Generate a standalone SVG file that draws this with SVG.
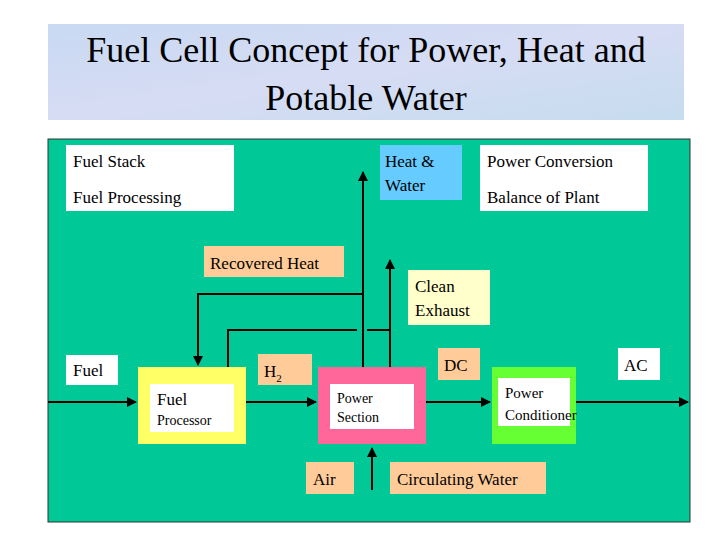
<svg xmlns="http://www.w3.org/2000/svg" width="720" height="540" viewBox="0 0 720 540">
<defs>
<style>
text{font-family:"Liberation Serif","Times New Roman",serif;fill:#000}
.ln{stroke:#000;stroke-width:2;fill:none}
.pe{fill:#ffcc99}
.wh{fill:#fff}
</style>
<marker id="ah" viewBox="0 0 10 10" refX="9" refY="5" markerWidth="5" markerHeight="5" orient="auto"><path d="M0,0L10,5L0,10z" fill="#000"/></marker>
<linearGradient id="tg" x1="0" y1="0" x2="1" y2="1"><stop offset="0" stop-color="#c9d9f2"/><stop offset="0.5" stop-color="#d6dcf4"/><stop offset="1" stop-color="#c6dcef"/></linearGradient>
</defs>
<rect width="720" height="540" fill="#fff"/>
<g id="title">
<rect x="48" y="24" width="636" height="96" fill="url(#tg)"/>
<text x="366" y="62" font-size="36" text-anchor="middle">Fuel Cell Concept for Power, Heat and</text>
<text x="366" y="110" font-size="36" text-anchor="middle">Potable Water</text>
</g>
<rect x="48" y="139" width="642" height="383" fill="#00c896" stroke="#333" stroke-width="1"/>
<g id="legend-stack"><rect class="wh" x="66" y="145" width="168" height="66"/><text x="73" y="167" font-size="17">Fuel Stack</text><text x="73" y="203" font-size="17">Fuel Processing</text></g>
<g id="legend-heat"><rect x="380" y="145" width="82" height="55" fill="#66ccff"/><text x="385" y="167" font-size="17">Heat &amp;</text><text x="385" y="191" font-size="17">Water</text></g>
<g id="legend-power"><rect class="wh" x="480" y="145" width="168" height="66"/><text x="487" y="167" font-size="17">Power Conversion</text><text x="487" y="203" font-size="17">Balance of Plant</text></g>
<g id="connectors">
<path class="ln" d="M363,373V172" marker-end="url(#ah)"/>
<path class="ln" d="M363,294H198V365" marker-end="url(#ah)"/>
<path class="ln" d="M390,367V260" marker-end="url(#ah)"/>
<path class="ln" d="M228,367V330H357M367,330H390"/>
<path class="ln" d="M48,402H136" marker-end="url(#ah)"/>
<path class="ln" d="M246,402H316" marker-end="url(#ah)"/>
<path class="ln" d="M426,402H490" marker-end="url(#ah)"/>
<path class="ln" d="M576,402H688" marker-end="url(#ah)"/>
<path class="ln" d="M372,490V448" marker-end="url(#ah)"/>
</g>
<g id="recovered-heat"><rect class="pe" x="204" y="246" width="140" height="31"/><text x="210" y="269" font-size="17">Recovered Heat</text></g>
<g id="clean-exhaust"><rect x="408" y="270" width="82" height="55" fill="#ffffcc"/><text x="415" y="292" font-size="17">Clean</text><text x="415" y="316" font-size="17">Exhaust</text></g>
<g id="fuel"><rect class="wh" x="66" y="355" width="52" height="30"/><text x="73" y="376" font-size="17">Fuel</text></g>
<g id="h2"><rect class="pe" x="258" y="354" width="54" height="31"/><text x="264" y="377" font-size="17">H<tspan font-size="11" dy="5">2</tspan></text></g>
<g id="dc"><rect class="pe" x="438" y="348" width="42" height="32"/><text x="444" y="371" font-size="17">DC</text></g>
<g id="ac"><rect class="wh" x="618" y="348" width="42" height="32"/><text x="624" y="371" font-size="17">AC</text></g>
<g id="fuel-processor"><rect x="138" y="367" width="108" height="77" fill="#ffff66"/><rect class="wh" x="150" y="384" width="84" height="48"/><text x="157" y="405" font-size="17">Fuel</text><text x="157" y="425" font-size="14">Processor</text></g>
<g id="power-section"><rect x="318" y="367" width="108" height="77" fill="#ff6699"/><rect class="wh" x="330" y="384" width="84" height="45"/><text x="337" y="403" font-size="14">Power</text><text x="337" y="422" font-size="14">Section</text></g>
<g id="power-conditioner"><rect x="492" y="367" width="84" height="77" fill="#66ff33"/><rect class="wh" x="498" y="378" width="72" height="48"/><text x="505" y="398" font-size="15">Power</text><text x="505" y="420" font-size="15">Conditioner</text></g>
<g id="air"><rect class="pe" x="306" y="462" width="48" height="32"/><text x="313" y="485" font-size="17">Air</text></g>
<g id="circulating-water"><rect class="pe" x="390" y="462" width="156" height="32"/><text x="397" y="485" font-size="17">Circulating Water</text></g>
</svg>
